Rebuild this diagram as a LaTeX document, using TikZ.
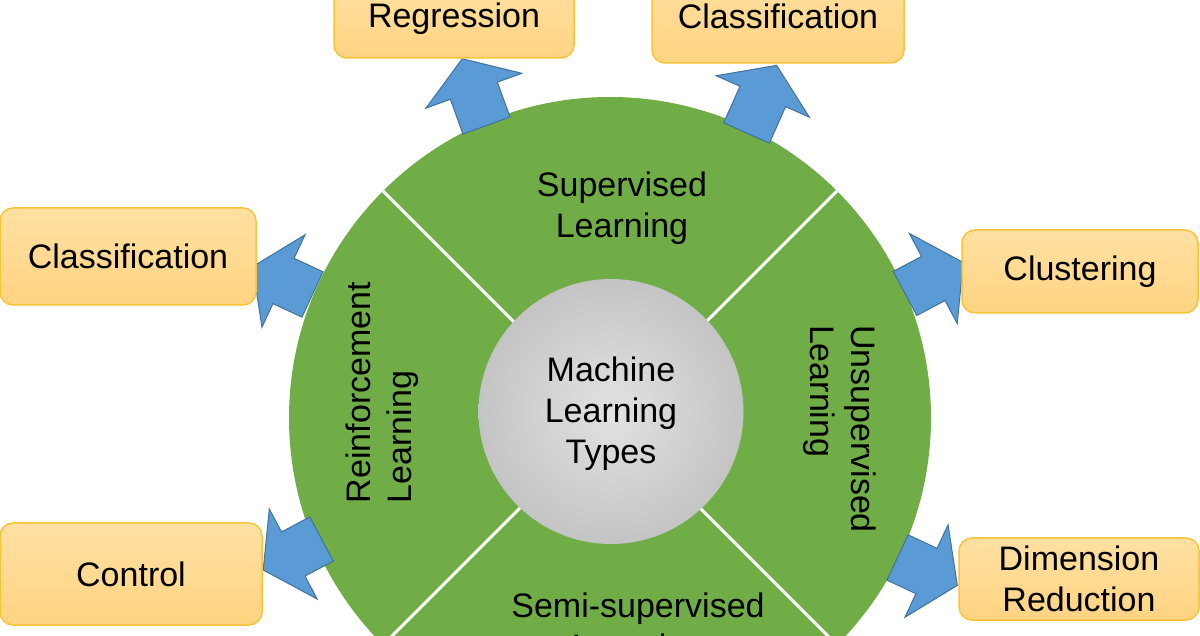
\documentclass[tikz,border=0pt]{standalone}
\usepackage{fontspec}
\setmainfont{Liberation Sans}
\definecolor{ringgreen}{HTML}{70AD47}
\definecolor{arrowblue}{HTML}{5B9BD5}
\definecolor{arrowline}{HTML}{41719C}
\definecolor{boxline}{HTML}{F9C33A}
\definecolor{boxtop}{HTML}{FFE0A2}
\definecolor{boxbot}{HTML}{FFD482}
\definecolor{hubin}{HTML}{E2E2E2}
\definecolor{hubout}{HTML}{C4C4C4}
\begin{document}
\begin{tikzpicture}[x=1pt,y=1pt,
  lbl/.style={font=\fontsize{34}{41}\selectfont, inner sep=0pt, align=center, text=black},
  box/.style={lbl, draw=boxline, line width=1.5pt, rounded corners=13pt, top color=boxtop, bottom color=boxbot},
  arrowshape/.style={fill=arrowblue, draw=arrowline, line width=1pt, line join=miter},
  divider/.style={draw=white, line width=3pt},
  pics/blockarr/.style={code={\path[arrowshape] (0,-25) -- (#1-34,-25) -- (#1-34,-51) -- (#1,0) -- (#1-34,51) -- (#1-34,25) -- (0,25) -- cycle;}}
]
\useasboundingbox (0,0) rectangle (1200,635);
\clip (0,0) rectangle (1200,635);

% ring
\coordinate (c) at (610,217);
\fill[ringgreen] (c) circle[radius=321];
\foreach \a in {45,135,225,315}
  \draw[divider] (c) -- ++(\a:321);
% hub
\node[circle, minimum size=265pt, inner sep=0pt, inner color=hubin, outer color=hubout] (hub) at (611,223.5) {};
\node[lbl] (hubtext) at (611,221) {Machine\\Learning\\Types};

% segment labels
\node[lbl] (sup) at (622,427) {Supervised\\Learning};
\node[lbl, align=left, rotate=90] (rein) at (382,242.5) {Reinforcement\\Learning};
\node[lbl, align=left, rotate=-90] (unsup) at (839.5,206) {Unsupervised\\Learning};
\node[lbl] (semi) at (638,5.3) {Semi-supervised\\Learning};

% block arrows
\pic (a1) [rotate=155] at (312.5,340.5) {blockarr=66};
\pic (a2) [rotate=110] at (486.5,509.5) {blockarr=71};
\pic (a3) [rotate=66]  at (746.5,502)   {blockarr=74};
\pic (a4) [rotate=28]  at (905,341.5)   {blockarr=66};
\pic (a5) [rotate=-25] at (897.5,77.5)  {blockarr=66};
\pic (a6) [rotate=208] at (321.5,96)    {blockarr=66};

% output boxes
\node[box, minimum width=240pt, minimum height=78pt] (reg) at (454,616) {Regression};
\node[box, minimum width=252pt, minimum height=94pt] (clsr) at (778,619) {Classification};
\node[box, minimum width=256pt, minimum height=97pt] (clsl) at (128,378.5) {Classification};
\node[box, minimum width=236pt, minimum height=83pt] (clu) at (1080,363.5) {Clustering};
\node[box, minimum width=262pt, minimum height=102pt] (ctl) at (131,61) {Control};
\node[box, minimum width=240pt, minimum height=82pt] (dim) at (1079,56) {Dimension\\Reduction};
\end{tikzpicture}
\end{document}
